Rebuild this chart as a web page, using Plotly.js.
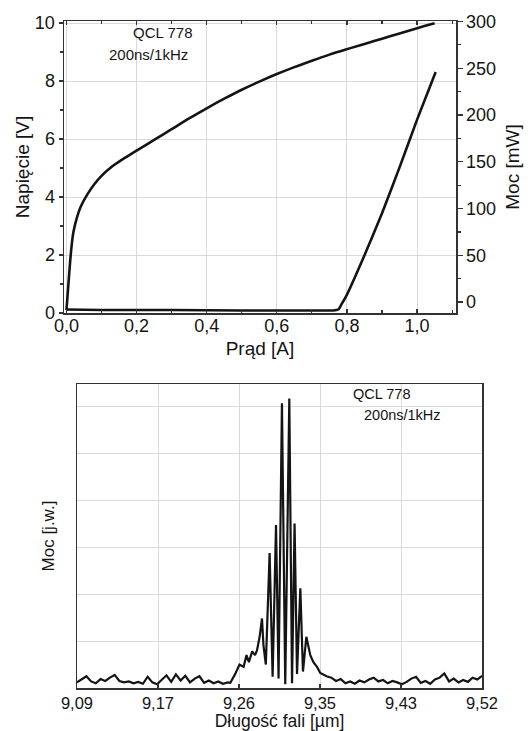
<!DOCTYPE html>
<html>
<head>
<meta charset="utf-8">
<script src="https://cdn.plot.ly/plotly-3.0.1.min.js"></script>
<style>html,body{margin:0;padding:0;background:#fff;}#chart{width:531px;height:731px;}</style>
</head>
<body>
<div id="chart"></div>
<script>
// ---- Top chart: current-voltage and current-power ----
var currentV = [0, 0.005, 0.01, 0.015, 0.02, 0.03, 0.04, 0.06, 0.08, 0.10, 0.13, 0.16, 0.20, 0.25, 0.30, 0.35, 0.40, 0.45, 0.50, 0.55, 0.60, 0.65, 0.70, 0.75, 0.80, 0.85, 0.90, 0.95, 1.00, 1.05];
var voltage  = [0.1, 0.9, 1.7, 2.35, 2.8, 3.3, 3.65, 4.1, 4.45, 4.73, 5.05, 5.3, 5.6, 5.97, 6.34, 6.71, 7.06, 7.39, 7.7, 7.98, 8.24, 8.48, 8.7, 8.91, 9.1, 9.28, 9.46, 9.64, 9.82, 9.99];

var currentP = [0, 0.1, 0.3, 0.5, 0.7, 0.76, 0.775, 0.785, 0.80, 0.85, 0.90, 0.95, 1.00, 1.053];
var power    = [-8, -8.5, -8.5, -9, -9, -9, -8, -2, 8, 50, 95, 144, 195, 246];

// ---- Bottom chart: spectrum ----
var wavelength = [
  9.090, 9.095, 9.100, 9.105, 9.110, 9.115, 9.120, 9.125, 9.130, 9.135,
  9.140, 9.145, 9.150, 9.155, 9.160, 9.165, 9.170, 9.175, 9.180, 9.185,
  9.190, 9.195, 9.200, 9.205, 9.210, 9.215, 9.220, 9.225, 9.230, 9.235,
  9.240, 9.245, 9.250, 9.2528, 9.258, 9.2625, 9.2669, 9.270, 9.2725, 9.276,
  9.279, 9.2811, 9.284, 9.2864, 9.288, 9.2905, 9.2945, 9.2977, 9.3013, 9.3040,
  9.3076, 9.3111, 9.3154, 9.3183, 9.3210, 9.3236, 9.3271, 9.3299, 9.3335, 9.3360,
  9.3377, 9.3410, 9.3448, 9.3483, 9.355, 9.360, 9.365, 9.370, 9.375, 9.380,
  9.385, 9.390, 9.395, 9.400, 9.405, 9.410, 9.415, 9.420, 9.425, 9.430,
  9.435, 9.440, 9.445, 9.450, 9.455, 9.460, 9.465, 9.470, 9.475, 9.480,
  9.485, 9.490, 9.495, 9.500, 9.505, 9.510, 9.515, 9.520
];
var intensity = [
  0.12, 0.18, 0.25, 0.14, 0.10, 0.19, 0.15, 0.22, 0.28, 0.15,
  0.12, 0.14, 0.10, 0.13, 0.09, 0.24, 0.12, 0.08, 0.17, 0.27,
  0.13, 0.29, 0.16, 0.26, 0.12, 0.20, 0.25, 0.11, 0.16, 0.10,
  0.14, 0.09, 0.12, 0.11, 0.30, 0.50, 0.45, 0.70, 0.55, 0.78,
  0.70, 0.80, 1.10, 1.48, 0.90, 0.50, 2.87, 0.24, 3.47, 0.20,
  6.06, 0.08, 6.16, 0.10, 3.50, 0.30, 2.12, 0.35, 1.09, 0.85,
  0.70, 0.55, 0.45, 0.32, 0.25, 0.22, 0.15, 0.19, 0.10, 0.14,
  0.09, 0.16, 0.12, 0.18, 0.22, 0.14, 0.17, 0.10, 0.15, 0.12,
  0.08, 0.13, 0.20, 0.24, 0.11, 0.15, 0.09, 0.18, 0.22, 0.31,
  0.14, 0.20, 0.12, 0.17, 0.13, 0.22, 0.18, 0.26
];
var wlTickVals = [9.09, 9.176, 9.262, 9.348, 9.434, 9.52];
var wlTickText = ['9,09', '9,17', '9,26', '9,35', '9,43', '9,52'];

var FONT = 'Liberation Sans, Arial, sans-serif';
var INK = '#141414';
var GRID = '#d9d9d9';
var W = 531, H = 731;
function px(x){ return x / W; }
function py(y){ return 1 - y / H; }

var traces = [
  {x: currentV, y: voltage, xaxis: 'x', yaxis: 'y', mode: 'lines',
   line: {color: INK, width: 2.6, shape: 'spline', smoothing: 1}, hoverinfo: 'x+y'},
  {x: currentP, y: power, xaxis: 'x', yaxis: 'y2', mode: 'lines',
   line: {color: INK, width: 2.6, shape: 'spline', smoothing: 0.5}, hoverinfo: 'x+y'},
  {x: wavelength, y: intensity, xaxis: 'x2', yaxis: 'y3', mode: 'lines',
   line: {color: INK, width: 2.2}, hoverinfo: 'x+y'}
];

var axisCommon = {
  showline: true, linecolor: '#333', linewidth: 1.5,
  zeroline: false, tickcolor: '#333', tickwidth: 1.2,
  tickfont: {family: FONT, size: 18, color: INK}
};

var layout = {
  width: W, height: H,
  margin: {l: 0, r: 0, t: 0, b: 0},
  paper_bgcolor: '#fff', plot_bgcolor: '#fff',
  separators: ',.',
  showlegend: false,
  font: {family: FONT, color: INK},
  xaxis: Object.assign({}, axisCommon, {
    domain: [px(64), px(456)], anchor: 'y',
    range: [-0.007, 1.111], tick0: 0, dtick: 0.2, tickformat: '.1f',
    mirror: 'ticks', ticks: 'inside', ticklen: 4, ticklabelstandoff: -4,
    showgrid: true, gridcolor: GRID, gridwidth: 1,
    minor: {dtick: 0.1, ticks: 'inside', ticklen: 3, tickcolor: '#333', showgrid: false},
    title: {text: 'Prąd [A]', font: {family: FONT, size: 19, color: INK}, standoff: 6}
  }),
  yaxis: Object.assign({}, axisCommon, {
    domain: [py(313), py(21)], anchor: 'x',
    range: [0, 10.07], tick0: 0, dtick: 2,
    mirror: false, ticks: 'outside', ticklen: 4,
    showgrid: true, gridcolor: GRID, gridwidth: 1,
    minor: {dtick: 1, ticks: 'outside', ticklen: 3, tickcolor: '#333', showgrid: false},
    title: {text: 'Napięcie [V]', font: {family: FONT, size: 19, color: INK}, standoff: 0}
  }),
  yaxis2: Object.assign({}, axisCommon, {
    overlaying: 'y', side: 'right', anchor: 'x',
    range: [-11.7, 300.5], tick0: 0, dtick: 50,
    ticks: 'outside', ticklen: 5, showgrid: false,
    minor: {dtick: 25, ticks: 'outside', ticklen: 3, tickcolor: '#333', showgrid: false},
    title: {text: 'Moc [mW]', font: {family: FONT, size: 19, color: INK}, standoff: 10}
  }),
  xaxis2: Object.assign({}, axisCommon, {
    domain: [px(77), px(482)], anchor: 'y3',
    range: [9.09, 9.52], tickmode: 'array', tickvals: wlTickVals, ticktext: wlTickText,
    mirror: true, ticks: 'inside', ticklen: 4,
    showgrid: true, gridcolor: GRID, gridwidth: 1,
    tickfont: {family: FONT, size: 16.5, color: INK},
    title: {text: 'Długość fali [µm]', font: {family: FONT, size: 17.5, color: INK}, standoff: 7}
  }),
  yaxis3: Object.assign({}, axisCommon, {
    domain: [py(688), py(384)], anchor: 'x2',
    range: [0, 6.47], tick0: 0, dtick: 1,
    mirror: true, ticks: '', showticklabels: false,
    showgrid: true, gridcolor: GRID, gridwidth: 1,
    title: {text: 'Moc [j.w.]', font: {family: FONT, size: 17, color: INK}, standoff: 16}
  }),
  annotations: [
    {xref: 'paper', yref: 'paper', x: px(162), y: py(32), text: 'QCL 778', showarrow: false,
     font: {family: FONT, size: 15, color: INK}, xanchor: 'center', yanchor: 'middle'},
    {xref: 'paper', yref: 'paper', x: px(148), y: py(55), text: '200ns/1kHz', showarrow: false,
     font: {family: FONT, size: 15, color: INK}, xanchor: 'center', yanchor: 'middle'},
    {xref: 'paper', yref: 'paper', x: px(382), y: py(394), text: 'QCL 778', showarrow: false,
     font: {family: FONT, size: 14.5, color: INK}, xanchor: 'center', yanchor: 'middle'},
    {xref: 'paper', yref: 'paper', x: px(402), y: py(415), text: '200ns/1kHz', showarrow: false,
     font: {family: FONT, size: 14.5, color: INK}, xanchor: 'center', yanchor: 'middle'}
  ]
};

Plotly.newPlot('chart', traces, layout, {displayModeBar: false, staticPlot: true});
</script>
</body>
</html>
